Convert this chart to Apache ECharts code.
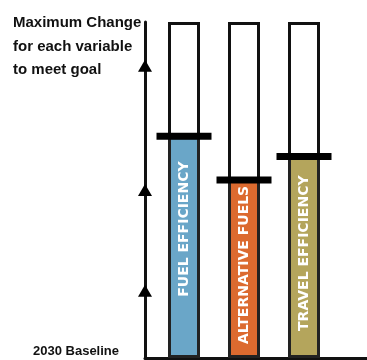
<!DOCTYPE html>
<html>
<head>
<meta charset="utf-8">
<script src="https://cdn.jsdelivr.net/npm/echarts@6/dist/echarts.min.js"></script>
<style>
html,body{margin:0;padding:0;background:#fff;}
#chart{width:367px;height:360px;}
</style>
</head>
<body>
<div id="chart"></div>
<script>
// ---- data ----
var categories = ['FUEL EFFICIENCY', 'ALTERNATIVE FUELS', 'TRAVEL EFFICIENCY'];
var positions = [1, 2, 3];
var maxChange = [100, 100, 100];
var reached = [66, 53, 60];
var arrowLevels = [20, 50, 87];
var topLabelLines = ['Maximum Change', 'for each variable', 'to meet goal'];
var baselineLabel = '2030 Baseline';

var colors = ['#6aa6c8', '#dc6a2f', '#b4a55c'];
var labelShift = [18, 4, 4];
var X_MIN = 0.35, X_MAX = 4.05;

var chart = echarts.init(document.getElementById('chart'), null, {renderer: 'canvas'});

var option = {
  animation: false,
  backgroundColor: '#ffffff',
  grid: {left: 145, right: 0, top: 22, bottom: 2, containLabel: false},
  xAxis: {
    type: 'value', min: X_MIN, max: X_MAX,
    axisLine: {show: true, onZero: false, lineStyle: {color: '#111', width: 3}},
    axisTick: {show: false}, axisLabel: {show: false}, splitLine: {show: false}
  },
  yAxis: {
    type: 'value', min: 0, max: 100,
    axisLine: {show: true, onZero: false, lineStyle: {color: '#111', width: 3}},
    axisTick: {show: false}, axisLabel: {show: false}, splitLine: {show: false}
  },
  series: [
    {
      type: 'bar', barWidth: 32, z: 1,
      data: positions.map(function (p, i) { return [p, maxChange[i]]; }),
      itemStyle: {color: '#ffffff', borderColor: '#111', borderWidth: 3}
    },
    {
      type: 'bar', barWidth: 32, barGap: '-100%', z: 2,
      data: positions.map(function (p, i) {
        return {
          value: [p, reached[i]],
          itemStyle: {color: colors[i]},
          label: {offset: [labelShift[i], 0]}
        };
      }),
      itemStyle: {borderColor: '#222', borderWidth: 3},
      label: {
        show: true, position: 'inside', rotate: 90,
        formatter: function (p) { return categories[p.dataIndex]; },
        color: '#ffffff', fontWeight: 'bold', fontSize: 14,
        fontFamily: 'DejaVu Sans'
      }
    },
    {
      type: 'scatter', z: 3,
      symbol: 'rect', symbolSize: [55, 7],
      itemStyle: {color: '#000000', opacity: 1},
      data: positions.map(function (p, i) { return [p, reached[i]]; })
    },
    {
      type: 'scatter', z: 4,
      symbol: 'triangle', symbolSize: [14, 12],
      itemStyle: {color: '#000000', opacity: 1},
      data: arrowLevels.map(function (v) { return [X_MIN, v]; })
    }
  ],
  graphic: [
    {type: 'text', left: 13, top: 15, style: {text: topLabelLines[0], font: 'bold 15px "Liberation Sans"', fill: '#111'}},
    {type: 'text', left: 13, top: 39, style: {text: topLabelLines[1], font: 'bold 15px "Liberation Sans"', fill: '#111'}},
    {type: 'text', left: 13, top: 62, style: {text: topLabelLines[2], font: 'bold 15px "Liberation Sans"', fill: '#111'}},
    {type: 'text', left: 33, top: 345, style: {text: baselineLabel, font: 'bold 13px "Liberation Sans"', fill: '#111'}}
  ]
};
chart.setOption(option);
</script>
</body>
</html>
